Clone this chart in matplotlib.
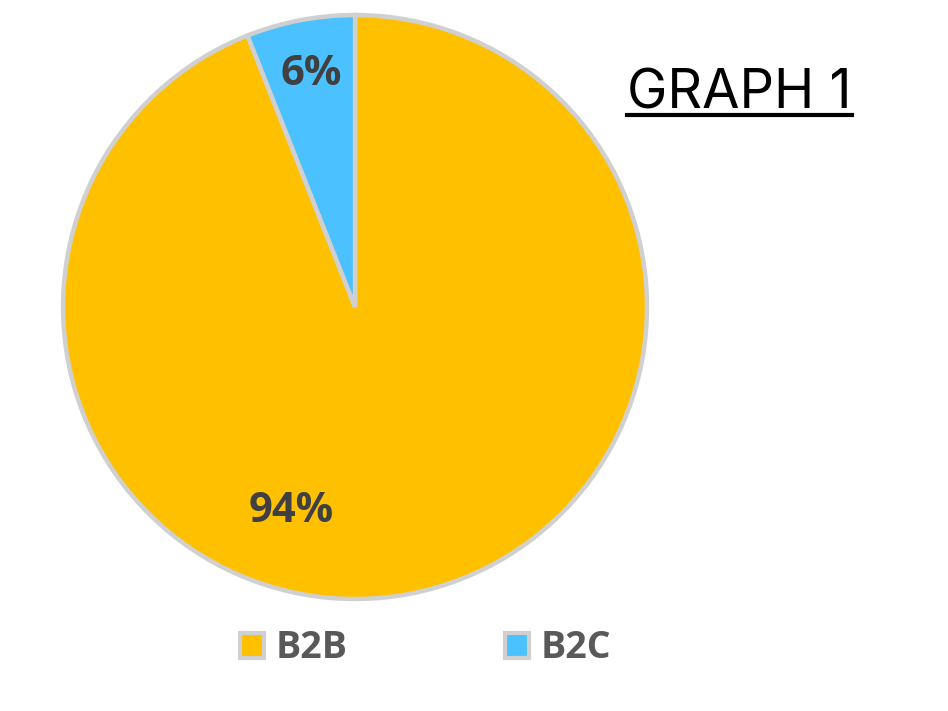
import matplotlib

matplotlib.use("Agg")
import matplotlib.pyplot as plt
from matplotlib.patches import Patch
from matplotlib.lines import Line2D

labels = ["B2B", "B2C"]
shares = [94, 6]
colors = ["#FFC000", "#4BC2FF"]
title = "GRAPH 1"

fig = plt.figure(figsize=[9.48, 7.11], dpi=100)
ax = fig.add_axes([0.0665, 0.1575, 0.616, 0.8214])

wedges, texts, autotexts = ax.pie(
    shares,
    colors=colors,
    startangle=90,
    counterclock=False,
    autopct=lambda p: f"{p:.0f}%",
    pctdistance=0.81,
    wedgeprops={"edgecolor": "#D0D0D0", "linewidth": 3.2},
)
for t in autotexts:
    t.set_fontfamily("Open Sans")
    t.set_fontweight("bold")
    t.set_fontsize(30)
    t.set_color("#404040")
# the big slice label sits lower-left rather than on the bisector
autotexts[0].set_position((-0.22, -0.70))
ax.set_aspect("equal")
ax.set_xlim(-1.0, 1.0)
ax.set_ylim(-1.0, 1.0)

handles = [Patch(facecolor=c, edgecolor="#D0D0D0", linewidth=3) for c in colors]
leg = fig.legend(
    handles,
    labels,
    loc="center",
    bbox_to_anchor=(0.449, 0.088),
    ncol=2,
    frameon=False,
    handlelength=0.65,
    handleheight=0.65,
    handletextpad=0.3,
    columnspacing=4.2,
    prop={"family": "Open Sans", "weight": "bold", "size": 27},
)
for t in leg.get_texts():
    t.set_color("#595959")

tx = fig.text(0.6614, 0.848, title, fontfamily="Inter", fontsize=39, color="black", va="baseline")
fig.canvas.draw()
bb = tx.get_window_extent().transformed(fig.transFigure.inverted())
fig.add_artist(Line2D([bb.x0, bb.x1], [0.838, 0.838], transform=fig.transFigure, color="black", linewidth=3))

fig.savefig("out.png", dpi=100)
